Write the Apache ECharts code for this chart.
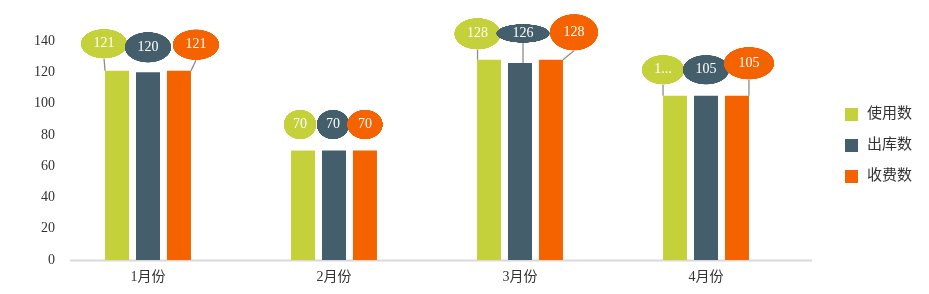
<!DOCTYPE html>
<html>
<head>
<meta charset="utf-8">
<script src="https://cdn.jsdelivr.net/npm/echarts@6/dist/echarts.min.js"></script>
<style>html,body{margin:0;padding:0;background:#fff}#c{width:929px;height:294px}</style>
</head>
<body>
<div id="c"></div>
<script>
const categories = ['1月份', '2月份', '3月份', '4月份'];
const seriesNames = ['使用数', '出库数', '收费数'];
const usage = [121, 70, 128, 105];
const outbound = [120, 70, 126, 105];
const charged = [121, 70, 128, 105];
const yTicks = { min: 0, max: 140, interval: 20 };

const colors = ['#C5D13A', '#455E6C', '#F46300'];
const fontFamily = '"Liberation Serif", "Noto Sans CJK SC", serif';

// label bubble layout (offsets from default 'top' position, bubble sizes, leader line)
const bubbleShift = [
  [[-13, -12], [-3, -11], [-11.5, -10], [-12, -11]],
  [[0, -9.5], [-1, -11], [3, -20], [0, -11]],
  [[17, -10.5], [0, -11], [23, -9], [12, -16]]
];
const bubbleSize = [
  [[47, 30], [33, 30], [47, 32], [43, 30]],
  [[47, 31], [33, 30], [54, 19], [47, 30]],
  [[47, 31], [36, 30], [49, 37], [51, 33]]
];
const bubbleLine = [
  [true, false, true, true],
  [false, false, true, false],
  [true, false, true, true]
];
const bubbleTruncated = [
  [false, false, false, true],
  [false, false, false, false],
  [false, false, false, false]
];

function ellipseImage(color) {
  const c = document.createElement('canvas');
  c.width = 200; c.height = 120;
  const ctx = c.getContext('2d');
  ctx.fillStyle = color;
  ctx.beginPath();
  ctx.ellipse(100, 60, 99, 59, 0, 0, Math.PI * 2);
  ctx.fill();
  return c;
}

const seriesValues = [usage, outbound, charged];

const chart = echarts.init(document.getElementById('c'), null, { renderer: 'canvas' });

const series = seriesValues.map((vals, si) => ({
  name: seriesNames[si],
  type: 'bar',
  barWidth: 24,
  barGap: '29%',
  itemStyle: { color: colors[si] },
  label: {
    show: true,
    position: 'top',
    distance: 0,
    color: '#fff',
    fontFamily: fontFamily,
    fontSize: 14,
    align: 'center',
    padding: 0,
    backgroundColor: { image: ellipseImage(colors[si]) },
    formatter: p => bubbleTruncated[si][p.dataIndex] ? String(p.value).charAt(0) + '...' : String(p.value)
  },
  labelLine: {
    show: true,
    lineStyle: { color: '#8c8c8c', width: 1.3 }
  },
  labelLayout: p => ({
    dx: bubbleShift[si][p.dataIndex][0],
    dy: bubbleShift[si][p.dataIndex][1]
  }),
  data: vals.map((v, i) => ({
    value: v,
    label: {
      width: bubbleSize[si][i][0],
      height: bubbleSize[si][i][1],
      lineHeight: bubbleSize[si][i][1]
    },
    labelLine: { show: bubbleLine[si][i] }
  }))
}));

chart.setOption({
  animation: false,
  backgroundColor: '#ffffff',
  textStyle: { fontFamily: fontFamily },
  grid: { left: 55, right: 130, top: 41, bottom: 34, containLabel: false },
  legend: {
    orient: 'vertical',
    left: 840,
    top: 102,
    itemWidth: 13,
    itemHeight: 13,
    itemGap: 16,
    icon: 'rect',
    data: seriesNames,
    textStyle: { fontFamily: fontFamily, fontSize: 15, color: '#333', padding: [0, 0, 0, 4] }
  },
  xAxis: {
    type: 'category',
    data: categories,
    axisLine: { show: false },
    axisTick: { show: false },
    axisLabel: { color: '#333', fontSize: 14, fontFamily: fontFamily, margin: 10 }
  },
  yAxis: {
    type: 'value',
    min: yTicks.min,
    max: yTicks.max,
    interval: yTicks.interval,
    axisLine: { show: false },
    axisTick: { show: false },
    splitLine: { show: false },
    axisLabel: { color: '#333', fontSize: 14, fontFamily: fontFamily, margin: 0 }
  },
  graphic: [{
    type: 'line',
    z: 0,
    shape: { x1: 70, y1: 260.5, x2: 812, y2: 260.5 },
    style: { stroke: '#d9d9d9', lineWidth: 2 }
  }],
  series: series
});
</script>
</body>
</html>
